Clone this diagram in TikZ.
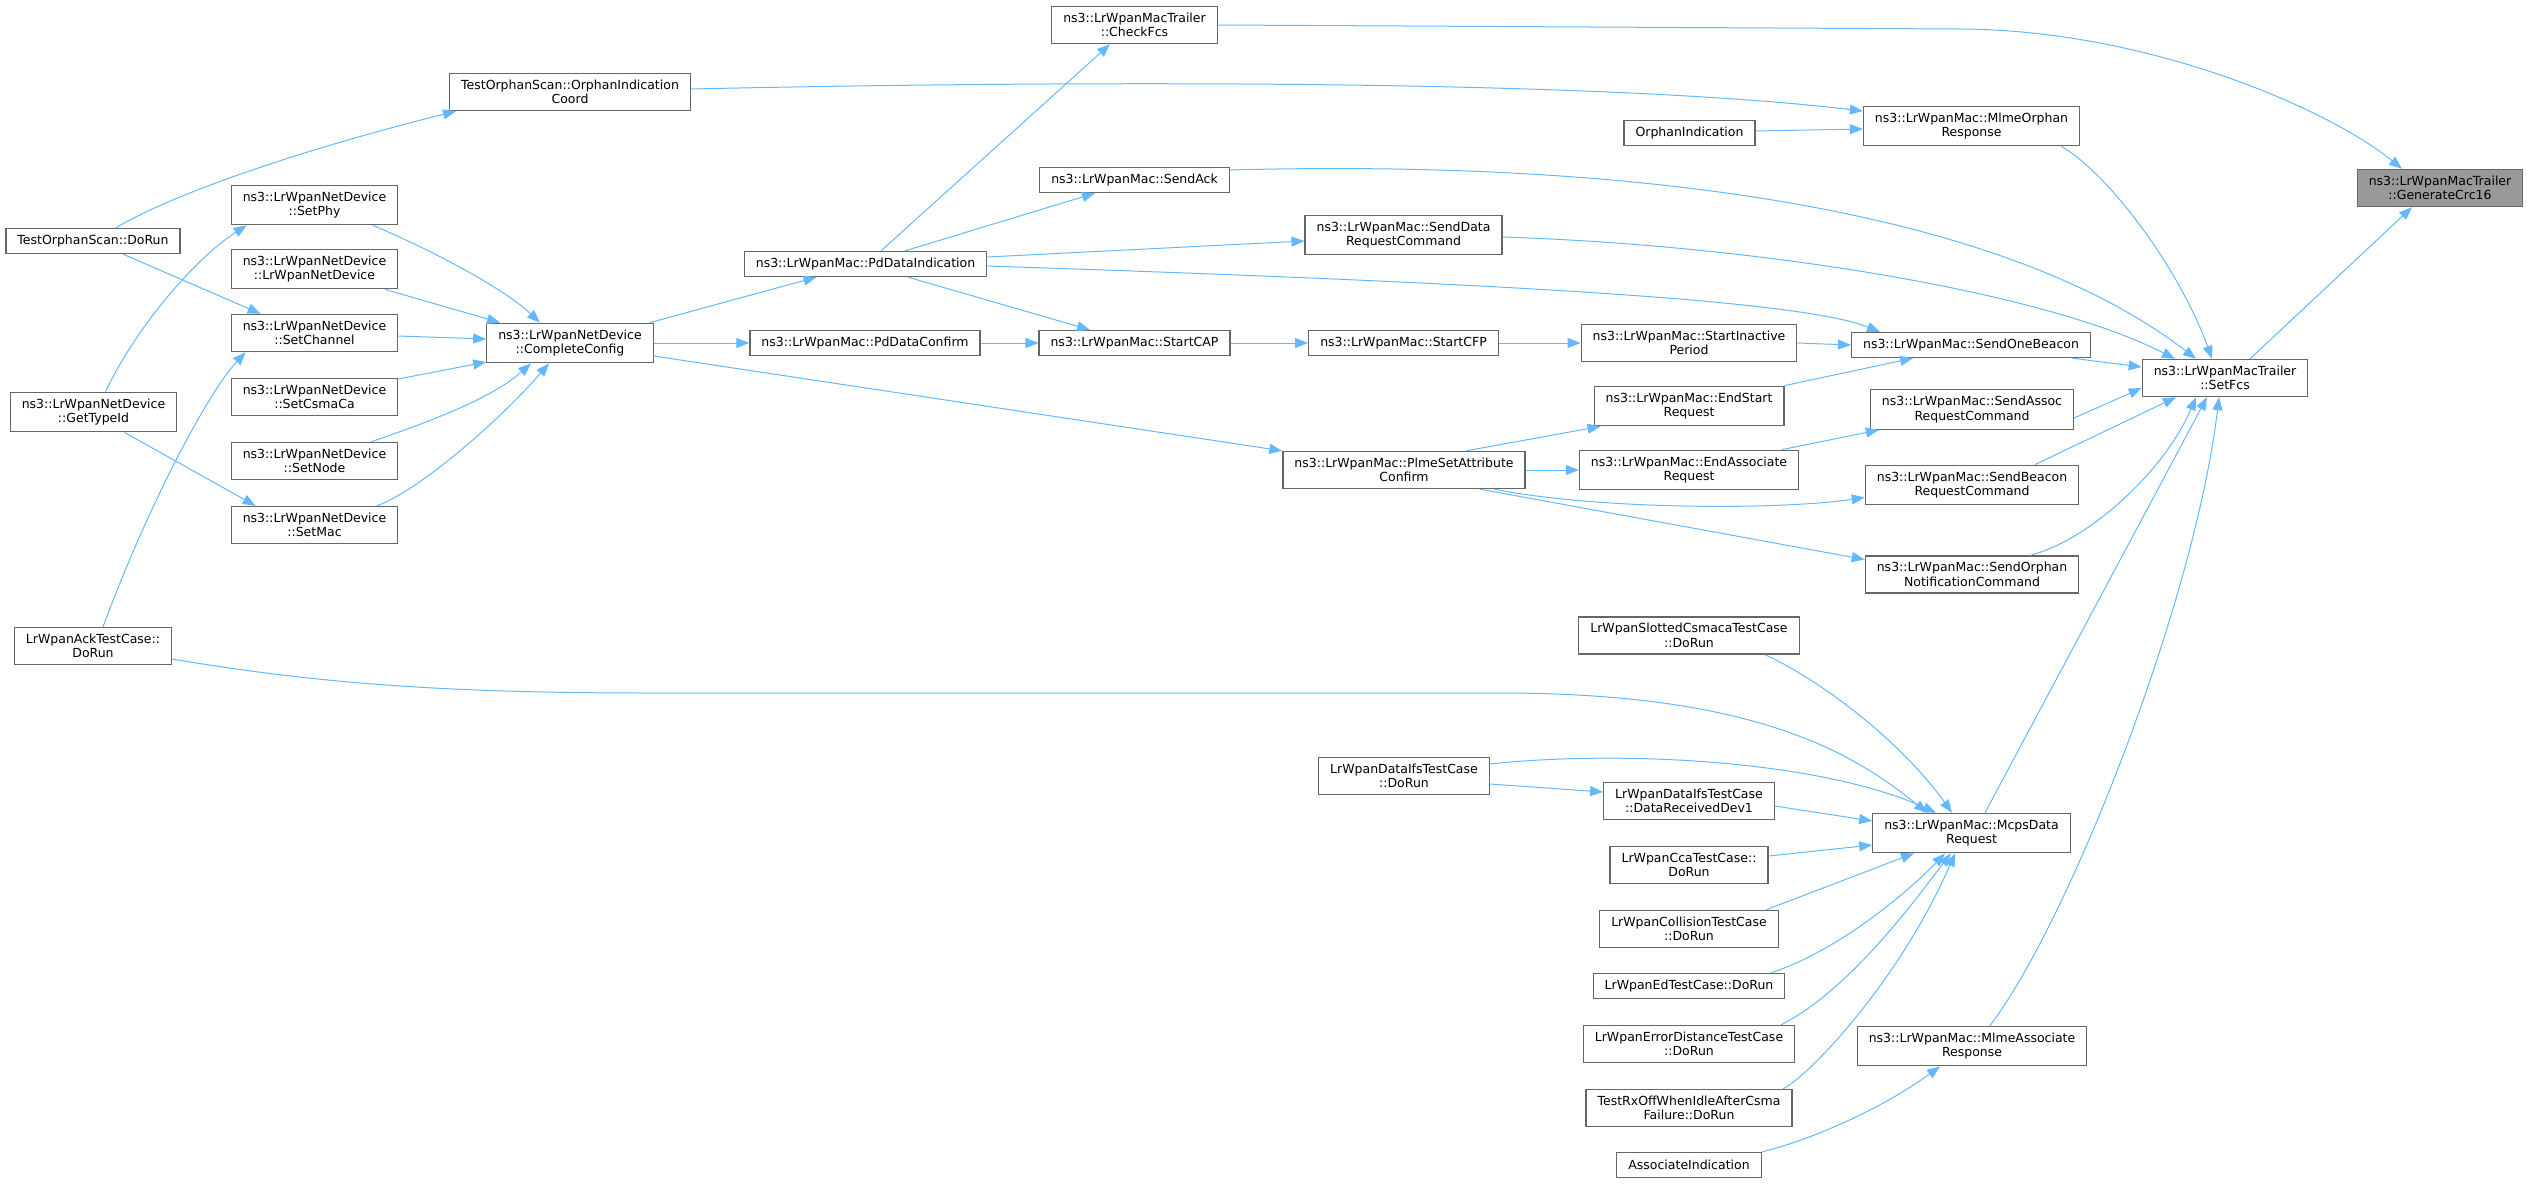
\documentclass[tikz,border=0pt]{standalone}
\usepackage{fontspec}
\setmainfont{DejaVu Sans}
\usetikzlibrary{arrows.meta}

\begin{document}
\begin{tikzpicture}[x=1pt,y=-1pt,
    fn/.style={draw=kGrey,line width=1.2pt,fill=white,align=center,
      font=\fontsize{12.5}{14.5}\selectfont,inner xsep=11.5pt,inner ysep=6.5pt,
      minimum height=25pt},
    fnMain/.style={fn,fill=kMain},
    call/.style={draw=kBlue,line width=1pt,-{Triangle[length=13pt,width=10pt]}}]
  \definecolor{kGrey}{rgb}{0.40,0.40,0.40}
  \definecolor{kMain}{rgb}{0.60,0.60,0.60}
  \definecolor{kBlue}{rgb}{0.39,0.72,1.00}

  \useasboundingbox (0,0) rectangle (2531,1183);

  % callee and its direct callers
  \node[fnMain] (gen) at (2440,188) {ns3::LrWpanMacTrailer\\::GenerateCrc16};
  \node[fn] (setfcs) at (2225,378) {ns3::LrWpanMacTrailer\\::SetFcs};
  \node[fn] (checkfcs) at (1134.5,25) {ns3::LrWpanMacTrailer\\::CheckFcs};

  % callers of SetFcs
  \node[fn] (mlmeorph) at (1971.5,126) {ns3::LrWpanMac::MlmeOrphan\\Response};
  \node[fn] (onebeacon) at (1971,345) {ns3::LrWpanMac::SendOneBeacon};
  \node[fn] (assoc) at (1972,409.5) {ns3::LrWpanMac::SendAssoc\\RequestCommand};
  \node[fn] (beaconreq) at (1972,485) {ns3::LrWpanMac::SendBeacon\\RequestCommand};
  \node[fn] (orphnotif) at (1972,574.5) {ns3::LrWpanMac::SendOrphan\\NotificationCommand};
  \node[fn] (mcps) at (1971.5,833) {ns3::LrWpanMac::McpsData\\Request};
  \node[fn] (mlmeassoc) at (1972,1046) {ns3::LrWpanMac::MlmeAssociate\\Response};
  \node[fn] (sendack) at (1134.5,180) {ns3::LrWpanMac::SendAck};
  \node[fn] (senddata) at (1403.5,235) {ns3::LrWpanMac::SendData\\RequestCommand};

  % column in front of them
  \node[fn] (orphind) at (1689.5,133) {OrphanIndication};
  \node[fn] (inactive) at (1689,343) {ns3::LrWpanMac::StartInactive\\Period};
  \node[fn] (endstart) at (1689,406) {ns3::LrWpanMac::EndStart\\Request};
  \node[fn] (endassoc) at (1689,470) {ns3::LrWpanMac::EndAssociate\\Request};
  \node[fn] (slotted) at (1689,635.5) {LrWpanSlottedCsmacaTestCase\\::DoRun};
  \node[fn] (datarecv) at (1689,801) {LrWpanDataIfsTestCase\\::DataReceivedDev1};
  \node[fn] (cca) at (1689,865) {LrWpanCcaTestCase::\\DoRun};
  \node[fn] (collision) at (1689,929) {LrWpanCollisionTestCase\\::DoRun};
  \node[fn] (ed) at (1689,986) {LrWpanEdTestCase::DoRun};
  \node[fn] (errdist) at (1689,1044) {LrWpanErrorDistanceTestCase\\::DoRun};
  \node[fn] (rxoff) at (1689,1108) {TestRxOffWhenIdleAfterCsma\\Failure::DoRun};
  \node[fn] (associnds) at (1689,1165) {AssociateIndication};

  \node[fn] (startcfp) at (1403.5,343) {ns3::LrWpanMac::StartCFP};
  \node[fn] (plme) at (1404,470) {ns3::LrWpanMac::PlmeSetAttribute\\Confirm};
  \node[fn] (dataifsrun) at (1404,776) {LrWpanDataIfsTestCase\\::DoRun};
  \node[fn] (startcap) at (1134.5,343) {ns3::LrWpanMac::StartCAP};
  \node[fn] (pdind) at (865.5,264) {ns3::LrWpanMac::PdDataIndication};
  \node[fn] (pdconf) at (865,343) {ns3::LrWpanMac::PdDataConfirm};

  % net device side
  \node[fn] (orphcoord) at (570,92) {TestOrphanScan::OrphanIndication\\Coord};
  \node[fn] (complete) at (570,343) {ns3::LrWpanNetDevice\\::CompleteConfig};
  \node[fn] (setphy) at (314.5,205) {ns3::LrWpanNetDevice\\::SetPhy};
  \node[fn] (netdev) at (314.5,269) {ns3::LrWpanNetDevice\\::LrWpanNetDevice};
  \node[fn] (setchan) at (314.5,333) {ns3::LrWpanNetDevice\\::SetChannel};
  \node[fn] (csma) at (314.5,397) {ns3::LrWpanNetDevice\\::SetCsmaCa};
  \node[fn] (setnode) at (314.5,461) {ns3::LrWpanNetDevice\\::SetNode};
  \node[fn] (setmac) at (314.5,525) {ns3::LrWpanNetDevice\\::SetMac};
  \node[fn] (orphrun) at (93,241) {TestOrphanScan::DoRun};
  \node[fn] (typeid) at (93.5,412) {ns3::LrWpanNetDevice\\::GetTypeId};
  \node[fn] (ackrun) at (93,646) {LrWpanAckTestCase::\\DoRun};

  % straight calls in a row
  \foreach \a/\b in {complete/pdconf,pdconf/startcap,startcap/startcfp,
                     startcfp/inactive,inactive/onebeacon,plme/endassoc}
  {
    \draw[call] (\a.east) -- (\b.west);
  }

  % into GenerateCrc16
  \draw[call] ([xshift=25pt]setfcs.north) -- ([xshift=-28pt]gen.south);
  \draw[call] (checkfcs.east) -- (1960,29) .. controls (2150,30) and (2330,110) .. ([xshift=-38pt]gen.north);

  % into SetFcs
  \draw[call] ([xshift=90pt]mlmeorph.south) .. controls (2110,175) and (2180,270) .. ([xshift=-13pt]setfcs.north);
  \draw[call] ([yshift=10pt]sendack.east) .. controls (1600,160) and (1990,200) .. ([xshift=-29pt]setfcs.north);
  \draw[call] ([yshift=-2pt]senddata.east) .. controls (1750,245) and (2040,290) .. ([xshift=-50pt]setfcs.north);
  \draw[call] ([xshift=101pt]onebeacon.south) -- ([yshift=11pt]setfcs.west);
  \draw[call] ([yshift=-8.5pt]assoc.east) -- ([yshift=-10pt]setfcs.west);
  \draw[call] ([xshift=63pt]beaconreq.north) -- ([xshift=-49pt]setfcs.south);
  \draw[call] ([xshift=58pt]orphnotif.north) .. controls (2090,540) and (2165,470) .. ([xshift=-29pt]setfcs.south);
  \draw[call] ([xshift=13.5pt]mcps.north) -- ([xshift=-18pt]setfcs.south);
  \draw[call] ([xshift=18pt]mlmeassoc.north) .. controls (2070,920) and (2195,600) .. ([xshift=-6pt]setfcs.south);

  % into MlmeOrphanResponse
  \draw[call] ([yshift=3pt]orphcoord.east) .. controls (1100,80) and (1600,80) .. ([yshift=15pt]mlmeorph.west);
  \draw[call] ([yshift=2pt]orphind.east) -- ([yshift=-3pt]mlmeorph.west);

  % from PdDataIndication
  \draw[call] ([xshift=15.5pt]pdind.north) -- ([xshift=-24.5pt]checkfcs.south);
  \draw[call] ([xshift=39.5pt]pdind.north) -- ([xshift=-39.5pt]sendack.south);
  \draw[call] ([yshift=7pt]pdind.east) -- ([yshift=-6pt]senddata.west);
  \draw[call] ([yshift=-2pt]pdind.east) .. controls (1500,283) and (1800,300) .. ([xshift=-91pt]onebeacon.north);
  \draw[call] ([xshift=42.5pt]pdind.south) -- ([xshift=-44.5pt]startcap.north);

  % into SendOneBeacon, SendAssoc..., SendBeacon..., SendOrphan...
  \draw[call] (endstart.north east) -- ([xshift=-58pt]onebeacon.south);
  \draw[call] ([xshift=62pt]plme.north) -- ([xshift=7pt]endstart.south west);
  \draw[call] ([xshift=-17pt]endassoc.north east) -- ([xshift=9pt]assoc.south west);
  \draw[call] ([xshift=90pt]plme.south) .. controls (1600,510) and (1780,510) .. ([yshift=-12.5pt]beaconreq.west);
  \draw[call] ([xshift=76pt]plme.south) -- ([yshift=15pt]orphnotif.west);

  % into McpsDataRequest
  \draw[call] ([yshift=-13pt]ackrun.east) .. controls (320,684) and (450,693) .. (650,693)
    -- (1500,693) .. controls (1750,693) and (1850,750) .. ([xshift=-44.5pt]mcps.north);
  \draw[call] ([yshift=12pt]dataifsrun.east) .. controls (1620,750) and (1820,760) .. ([xshift=-35.5pt]mcps.north);
  \draw[call] ([xshift=76pt]slotted.south) .. controls (1820,680) and (1900,740) .. ([xshift=-19.5pt]mcps.north);
  \draw[call] ([yshift=-8pt]dataifsrun.east) -- ([yshift=9pt]datarecv.west);
  \draw[call] ([yshift=-5pt]datarecv.east) -- ([yshift=12pt]mcps.west);
  \draw[call] ([yshift=9pt]cca.east) -- ([yshift=-12pt]mcps.west);
  \draw[call] ([xshift=77pt]collision.north) -- ([xshift=-57.5pt]mcps.south);
  \draw[call] ([xshift=82pt]ed.north) .. controls (1840,950) and (1910,890) .. ([xshift=-26.5pt]mcps.south);
  \draw[call] ([xshift=92pt]errdist.north) .. controls (1850,990) and (1915,900) .. ([xshift=-20.5pt]mcps.south);
  \draw[call] ([xshift=94pt]rxoff.north) .. controls (1810,1075) and (1900,980) .. ([xshift=-16.5pt]mcps.south);
  \draw[call] ([xshift=73pt]associnds.north) .. controls (1810,1140) and (1880,1110) .. ([xshift=-32pt]mlmeassoc.south);

  % into CompleteConfig and PlmeSetAttributeConfirm
  \draw[call] ([xshift=80pt]complete.north) -- ([xshift=-49pt]pdind.south);
  \draw[call] ([yshift=-13pt]complete.east) -- (plme.north west);
  \draw[call] ([xshift=58.5pt]setphy.south) .. controls (420,245) and (500,285) .. ([xshift=-30pt]complete.north);
  \draw[call] ([xshift=70.5pt]netdev.south) -- ([xshift=-70pt]complete.north);
  \draw[call] ([yshift=-3pt]setchan.east) -- ([yshift=4pt]complete.west);
  \draw[call] ([yshift=18pt]csma.east) -- ([yshift=-19pt]complete.west);
  \draw[call] ([xshift=56.5pt]setnode.north) .. controls (420,425) and (490,400) .. ([xshift=-39pt]complete.south);
  \draw[call] ([xshift=62.5pt]setmac.north) .. controls (420,490) and (500,420) .. ([xshift=-21pt]complete.south);

  % test entry points
  \draw[call] ([xshift=23pt]orphrun.north) .. controls (170,195) and (300,150) .. ([xshift=7pt]orphcoord.south west);
  \draw[call] ([xshift=30pt]orphrun.south) -- ([xshift=30pt]setchan.north west);
  \draw[call] ([xshift=12pt]typeid.north) .. controls (140,320) and (200,255) .. ([xshift=16pt]setphy.south west);
  \draw[call] ([xshift=31pt]typeid.south) -- ([xshift=25pt]setmac.north west);
  \draw[call] ([xshift=10pt]ackrun.north) .. controls (150,500) and (210,390) .. ([xshift=15pt]setchan.south west);
\end{tikzpicture}
\end{document}
